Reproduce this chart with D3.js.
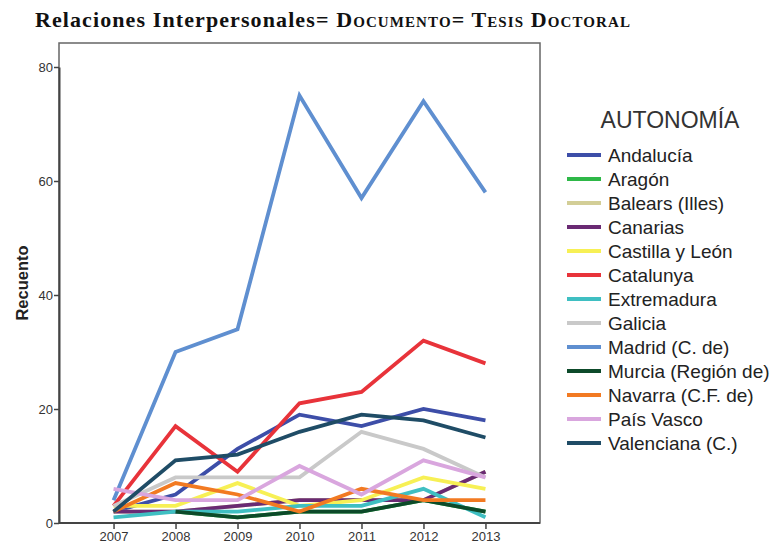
<!DOCTYPE html>
<html>
<head>
<meta charset="utf-8">
<script src="https://cdn.jsdelivr.net/npm/d3@7"></script>
<style>
  body { margin: 0; background: #fff; }
</style>
</head>
<body>
<script>
//Declare consts/global variables
const width = 773;
const height = 545;
const plot = {left: 59, right: 540, top: 43, bottom: 523};

//Data
const years = ["2007", "2008", "2009", "2010", "2011", "2012", "2013"];
const regions = ["Andalucía", "Aragón", "Balears (Illes)", "Canarias", "Castilla y León", "Catalunya",
                 "Extremadura", "Galicia", "Madrid (C. de)", "Murcia (Región de)", "Navarra (C.F. de)",
                 "País Vasco", "Valenciana (C.)"];
const colors = ["#3d4ea8", "#2eb848", "#d3ce97", "#6a2a73", "#f7f055", "#e8333a",
                "#3fbfc2", "#c9c9c9", "#5f8fd0", "#0d4a2a", "#f27a22", "#d9a6de", "#1f4c66"];
const andalucia   = [2, 5, 13, 19, 17, 20, 18];
const aragon      = [null, 2, 1, 2, 2, 4, 2];
const balears     = [2, 2, 3, 4, 4, 4, 9];
const canarias    = [2, 2, 3, 4, 4, 4, 9];
const castilla    = [3, 3, 7, 3, 4, 8, 6];
const catalunya   = [3, 17, 9, 21, 23, 32, 28];
const extremadura = [1, 2, 2, 3, 3, 6, 1];
const galicia     = [3, 8, 8, 8, 16, 13, 8];
const madrid      = [4, 30, 34, 75, 57, 74, 58];
const murcia      = [null, 2, 1, 2, 2, 4, 2];
const navarra     = [2, 7, 5, 2, 6, 4, 4];
const paisVasco   = [6, 4, 4, 10, 5, 11, 8];
const valenciana  = [2, 11, 12, 16, 19, 18, 15];
const yTicks = [0, 20, 40, 60, 80];

const seriesValues = [andalucia, aragon, balears, canarias, castilla, catalunya, extremadura,
                      galicia, madrid, murcia, navarra, paisVasco, valenciana];
const series = regions.map((r, i) => ({name: r, color: colors[i], values: seriesValues[i]}));

//Scales
const xScale = d3.scalePoint()
                .domain(years)
                .range([plot.left, plot.right])
                .padding(0.88);

const yScale = d3.scaleLinear()
                .domain([0, 80])
                .range([plot.bottom, plot.bottom - 80 * 5.7]);

//SVG
const svg = d3.select("body")
            .append("svg")
            .attr("width", width)
            .attr("height", height)
            .style("font-family", "Arial, 'Liberation Sans', sans-serif");

//Title
const title = svg.append("text")
    .attr("x", 333)
    .attr("y", 27)
    .attr("text-anchor", "middle")
    .style("font-family", "'Liberation Serif', 'DejaVu Serif', serif")
    .style("font-weight", "bold")
    .style("font-size", "22px")
    .style("letter-spacing", "1.1px")
    .style("fill", "#111");
title.append("tspan").text("Relaciones Interpersonales= ");
title.append("tspan").style("font-variant", "small-caps").text("Documento= Tesis Doctoral");

//Frame
svg.append("rect")
    .attr("x", plot.left)
    .attr("y", plot.top)
    .attr("width", plot.right - plot.left)
    .attr("height", plot.bottom - plot.top)
    .attr("fill", "none")
    .attr("stroke", "#666")
    .attr("stroke-width", 1.5);

//Lines
const line = d3.line()
    .defined(d => d.v != null)
    .x(d => xScale(d.year))
    .y(d => yScale(d.v));

svg.append("g")
    .selectAll("path")
    .data(series)
    .enter()
    .append("path")
    .attr("d", s => line(s.values.map((v, i) => ({year: years[i], v: v}))))
    .attr("fill", "none")
    .attr("stroke", s => s.color)
    .attr("stroke-width", 3.8)
    .attr("stroke-linejoin", "miter");

//Axes
const bottomAxis = d3.axisBottom(xScale).tickSize(6).tickSizeOuter(0);
const leftAxis = d3.axisLeft(yScale).tickValues(yTicks).tickSize(5).tickSizeOuter(0);

const gx = svg.append("g")
    .attr("transform", "translate(0," + plot.bottom + ")")
    .call(bottomAxis);
gx.select(".domain").attr("stroke", "#444").attr("stroke-width", 2)
    .attr("d", "M" + plot.left + ",0H" + plot.right);
gx.selectAll(".tick line").attr("stroke", "#444").attr("stroke-width", 1.5);
gx.selectAll("text")
    .attr("dy", "0.71em")
    .attr("y", 9)
    .style("font-size", "13px")
    .style("fill", "#333")
    .style("font-family", "Arial, 'Liberation Sans', sans-serif");

const gy = svg.append("g")
    .attr("transform", "translate(" + plot.left + ",0)")
    .call(leftAxis);
gy.select(".domain").attr("stroke", "#444").attr("stroke-width", 2);
gy.selectAll(".tick line").attr("stroke", "#444").attr("stroke-width", 1.5);
gy.selectAll("text")
    .attr("x", -6)
    .style("font-size", "13px")
    .style("fill", "#333")
    .style("font-family", "Arial, 'Liberation Sans', sans-serif");

//Y label
svg.append("text")
    .attr("transform", "translate(28,283) rotate(-90)")
    .attr("text-anchor", "middle")
    .style("font-size", "16.5px")
    .style("font-weight", "bold")
    .style("fill", "#222")
    .text("Recuento");

//Legend
svg.append("text")
    .attr("x", 670)
    .attr("y", 128)
    .attr("text-anchor", "middle")
    .style("font-size", "23px")
    .style("fill", "#333")
    .text("AUTONOMÍA");

const legend = svg.append("g")
    .selectAll("g")
    .data(series)
    .enter()
    .append("g")
    .attr("transform", (d, i) => "translate(0," + (155 + i * 24) + ")");

legend.append("line")
    .attr("x1", 567)
    .attr("x2", 601)
    .attr("stroke", d => d.color)
    .attr("stroke-width", 4);

legend.append("text")
    .attr("x", 608)
    .attr("dy", "0.35em")
    .style("font-size", "19px")
    .style("fill", "#222")
    .text(d => d.name);
</script>
</body>
</html>
